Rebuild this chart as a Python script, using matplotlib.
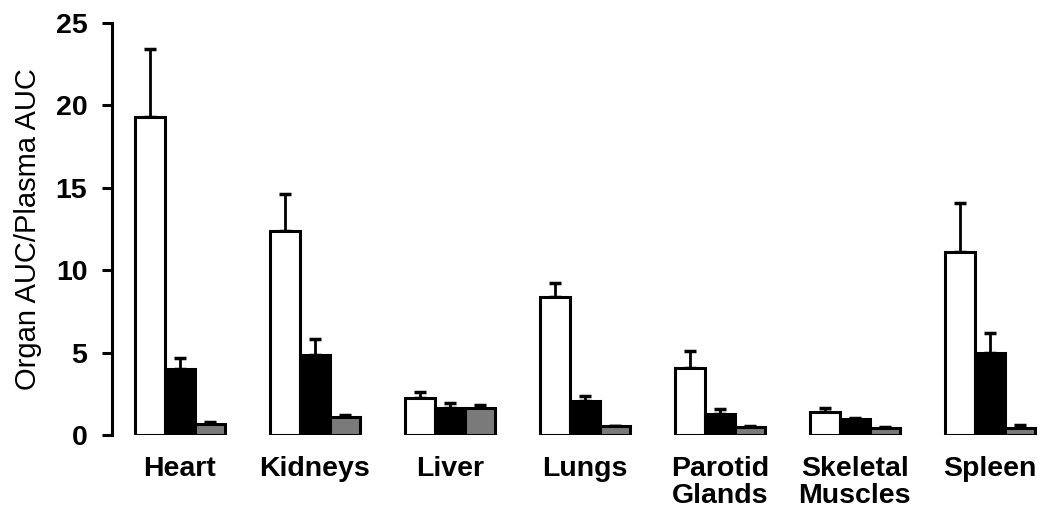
import numpy as np
import matplotlib.pyplot as plt

plt.rcParams["font.family"] = ["Liberation Sans", "DejaVu Sans"]

# organ / plasma AUC ratios, three formulations per organ
organs = ["Heart", "Kidneys", "Liver", "Lungs", "Parotid\nGlands", "Skeletal\nMuscles", "Spleen"]
white_vals = [19.3, 12.4, 2.25, 8.4, 4.1, 1.4, 11.1]
white_err = [4.1, 2.2, 0.35, 0.85, 1.0, 0.25, 2.95]
black_vals = [4.0, 4.85, 1.62, 2.08, 1.31, 0.95, 4.98]
black_err = [0.7, 1.0, 0.32, 0.3, 0.25, 0.1, 1.2]
gray_vals = [0.67, 1.1, 1.62, 0.55, 0.5, 0.45, 0.46]
gray_err = [0.13, 0.1, 0.2, 0.03, 0.03, 0.03, 0.13]

yticks = [0, 5, 10, 15, 20, 25]


def draw_bars(ax):
    x = np.arange(len(organs))
    w = 0.222
    series = [
        (white_vals, white_err, "white", -w),
        (black_vals, black_err, "black", 0),
        (gray_vals, gray_err, "#7a7a7a", w),
    ]
    for vals, err, color, off in series:
        ax.bar(x + off, vals, width=w, color=color, edgecolor="black",
               linewidth=2.2, zorder=2)
        ax.errorbar(x + off, vals, yerr=[np.zeros(len(vals)), err], fmt="none",
                    ecolor="black", elinewidth=2, capsize=4.5, capthick=2.5, zorder=1)
    return x


def main():
    fig = plt.figure(figsize=(10.5, 5.3), dpi=100)
    ax = fig.add_axes([0.107, 0.179, 0.887, 0.778])
    x = draw_bars(ax)

    ax.set_xlim(-0.5, 6.4)
    ax.set_ylim(0, 25)
    ax.set_yticks(yticks)
    ax.set_yticklabels([str(t) for t in yticks], fontsize=20.5, fontweight="bold")
    ax.set_xticks(x)
    ax.set_xticklabels(organs, fontsize=20.5, fontweight="bold", va="top", linespacing=1.05)
    ax.tick_params(axis="x", length=0, pad=15)
    ax.tick_params(axis="y", direction="out", length=7, width=2.2, pad=11)
    ax.set_ylabel("Organ AUC/Plasma AUC", fontsize=21, labelpad=10)

    for side in ["top", "right", "bottom"]:
        ax.spines[side].set_visible(False)
    ax.spines["left"].set_linewidth(2.2)

    fig.savefig("out.png", dpi=100)


if __name__ == "__main__":
    main()
